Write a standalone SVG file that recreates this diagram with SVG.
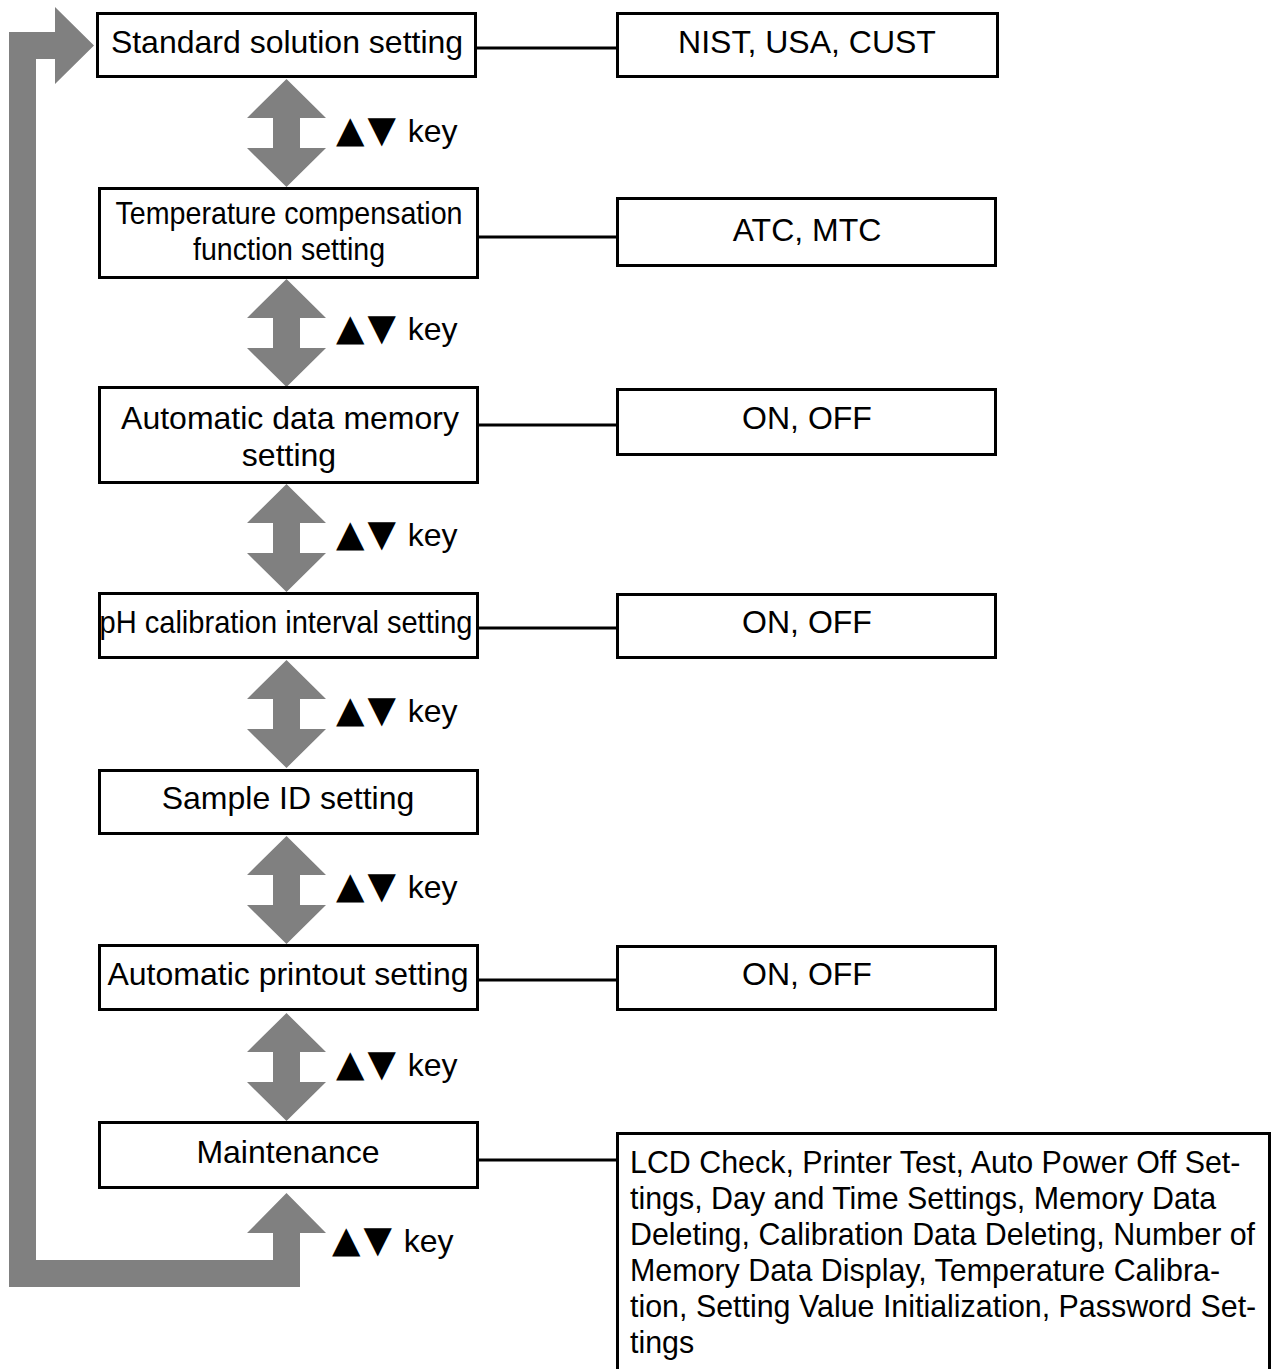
<svg xmlns="http://www.w3.org/2000/svg" width="1276" height="1369" viewBox="0 0 1276 1369">
<style>
.box{fill:#fff;stroke:#000;stroke-width:3}
.t{font-family:"Liberation Sans",Arial,sans-serif;font-size:32px;fill:#000}
.tri{font-family:"DejaVu Sans",sans-serif;font-size:37px;letter-spacing:3px}
.c{text-anchor:middle}
.arr{fill:#808080}
.conn{stroke:#000;stroke-width:3;fill:none}
</style>
<defs>
<path id="dbl" class="arr" d="M0 0 L39.5 39 L13.5 39 L13.5 69 L39.5 69 L0 108 L-39.5 69 L-13.5 69 L-13.5 39 L-39.5 39 Z"/>
</defs>
<rect width="1276" height="1369" fill="#fff"/>
<g id="connectors">
<line class="conn" x1="476" y1="48" x2="617" y2="48"/>
<line class="conn" x1="478" y1="237" x2="617" y2="237"/>
<line class="conn" x1="478" y1="425" x2="617" y2="425"/>
<line class="conn" x1="478" y1="628" x2="617" y2="628"/>
<line class="conn" x1="478" y1="980" x2="617" y2="980"/>
<line class="conn" x1="478" y1="1160" x2="617" y2="1160"/>
<path class="arr" d="M9 1287 L300 1287 L300 1233 L326 1233 L286.5 1193 L247 1233 L273 1233 L273 1260 L36 1260 L36 59 L55 59 L55 84 L94 45.5 L55 7 L55 32 L9 32 Z"/>
<use href="#dbl" x="286.5" y="79"/>
<use href="#dbl" x="286.5" y="279"/>
<use href="#dbl" x="286.5" y="484"/>
<use href="#dbl" x="286.5" y="660"/>
<use href="#dbl" x="286.5" y="836"/>
<use href="#dbl" x="286.5" y="1013"/>
<text class="t" x="336" y="142"><tspan class="tri">▲▼</tspan> key</text>
<text class="t" x="336" y="340"><tspan class="tri">▲▼</tspan> key</text>
<text class="t" x="336" y="546"><tspan class="tri">▲▼</tspan> key</text>
<text class="t" x="336" y="722"><tspan class="tri">▲▼</tspan> key</text>
<text class="t" x="336" y="898"><tspan class="tri">▲▼</tspan> key</text>
<text class="t" x="336" y="1076"><tspan class="tri">▲▼</tspan> key</text>
<text class="t" x="332" y="1252"><tspan class="tri">▲▼</tspan> key</text>
</g>
<g id="n1"><rect class="box" x="97.5" y="13.5" width="378" height="63"/><text class="t c" x="287" y="53">Standard solution setting</text></g>
<g id="r1"><rect class="box" x="617.5" y="13.5" width="380" height="63"/><text class="t c" x="807" y="53">NIST, USA, CUST</text></g>
<g id="n2"><rect class="box" x="99.5" y="188.5" width="378" height="89"/><text class="t c" x="289" y="224" textLength="347" lengthAdjust="spacingAndGlyphs">Temperature compensation</text><text class="t c" x="289" y="260" textLength="192" lengthAdjust="spacingAndGlyphs">function setting</text></g>
<g id="r2"><rect class="box" x="617.5" y="198.5" width="378" height="67"/><text class="t c" x="807" y="241">ATC, MTC</text></g>
<g id="n3"><rect class="box" x="99.5" y="387.5" width="378" height="95"/><text class="t c" x="290" y="429">Automatic data memory</text><text class="t c" x="289" y="466">setting</text></g>
<g id="r3"><rect class="box" x="617.5" y="389.5" width="378" height="65"/><text class="t c" x="807" y="429">ON, OFF</text></g>
<g id="n4"><rect class="box" x="99.5" y="593.5" width="378" height="64"/><text class="t c" x="286" y="633" textLength="373" lengthAdjust="spacingAndGlyphs">pH calibration interval setting</text></g>
<g id="r4"><rect class="box" x="617.5" y="594.5" width="378" height="63"/><text class="t c" x="807" y="633">ON, OFF</text></g>
<g id="n5"><rect class="box" x="99.5" y="770.5" width="378" height="63"/><text class="t c" x="288" y="809">Sample ID setting</text></g>
<g id="n6"><rect class="box" x="99.5" y="945.5" width="378" height="64"/><text class="t c" x="288" y="985">Automatic printout setting</text></g>
<g id="r6"><rect class="box" x="617.5" y="946.5" width="378" height="63"/><text class="t c" x="807" y="985">ON, OFF</text></g>
<g id="n7"><rect class="box" x="99.5" y="1122.5" width="378" height="65"/><text class="t c" x="288" y="1163">Maintenance</text></g>
<g id="r7"><rect class="box" x="617.5" y="1133.5" width="652" height="260"/>
<g transform="translate(630 0) scale(0.95 1)">
<text class="t" x="0" y="1173">LCD Check, Printer Test, Auto Power Off Set-</text>
<text class="t" x="0" y="1209">tings, Day and Time Settings, Memory Data</text>
<text class="t" x="0" y="1245">Deleting, Calibration Data Deleting, Number of</text>
<text class="t" x="0" y="1281">Memory Data Display, Temperature Calibra-</text>
<text class="t" x="0" y="1317">tion, Setting Value Initialization, Password Set-</text>
<text class="t" x="0" y="1353">tings</text>
</g></g>
</svg>
